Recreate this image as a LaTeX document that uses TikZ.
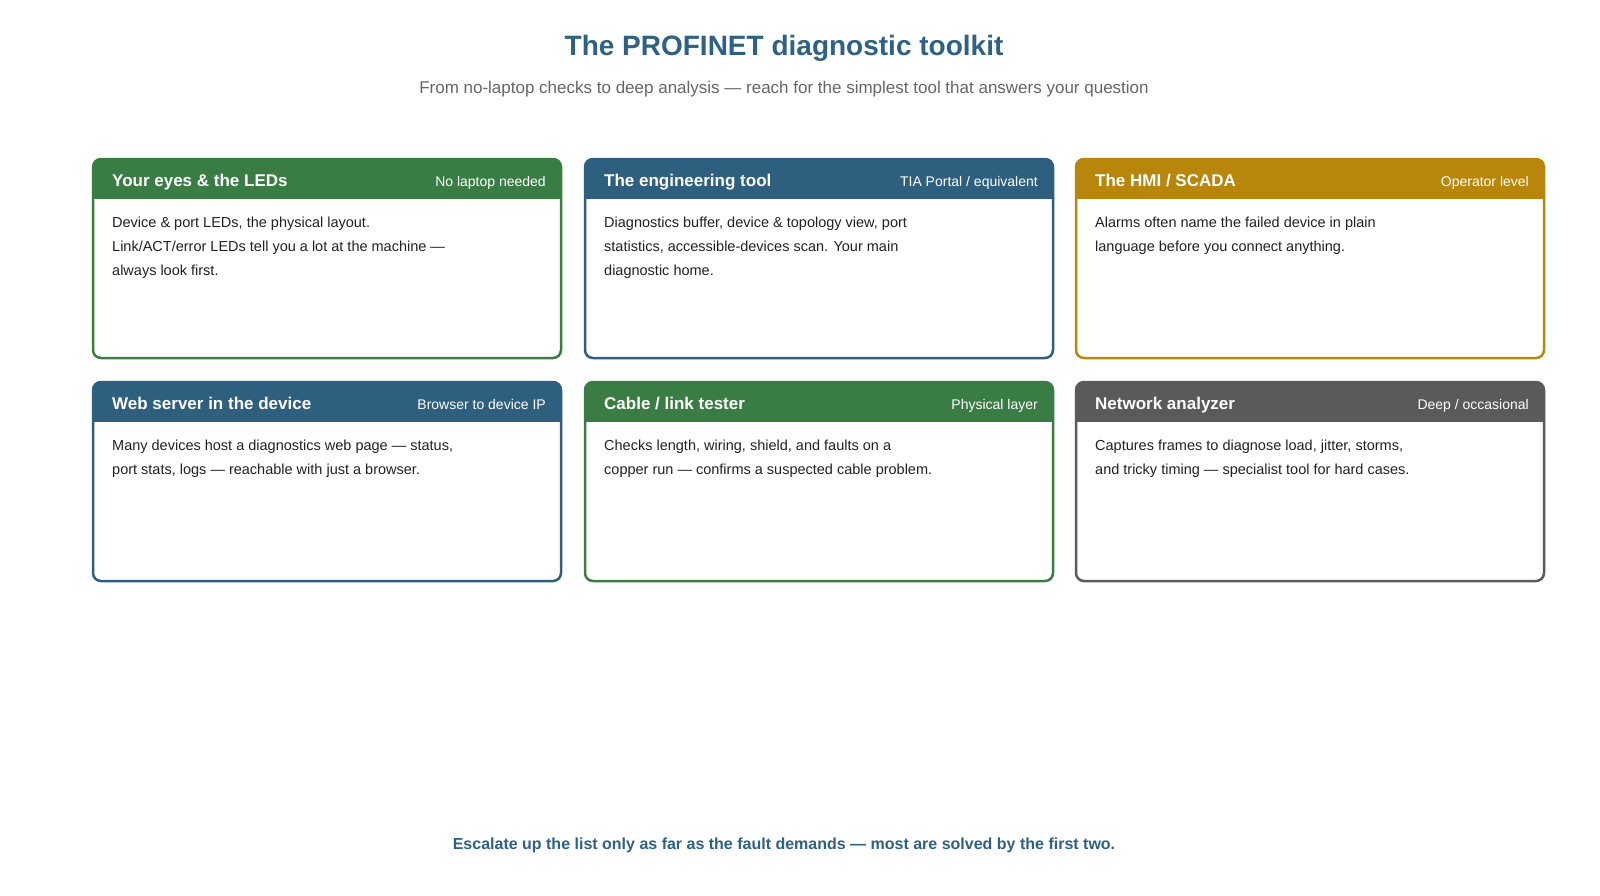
\documentclass[tikz,border=0pt]{standalone}
\usepackage{fontspec}
\setmainfont{Liberation Sans}
\usetikzlibrary{calc}
\definecolor{cgreen}{HTML}{3A7D44}
\definecolor{cblue}{HTML}{2E5F7F}
\definecolor{cgold}{HTML}{B8860B}
\definecolor{cgray}{HTML}{5A5A5A}
\definecolor{ctitle}{HTML}{2E6183}
\definecolor{csub}{HTML}{666666}
\definecolor{cbody}{HTML}{222222}
\begin{document}
\begin{tikzpicture}[x=1pt,y=-1pt,
  htitle/.style={anchor=base west,text=white,font=\fontsize{17}{20}\selectfont\bfseries,inner sep=0},
  htag/.style={anchor=base east,text=white,font=\fontsize{14}{16}\selectfont,inner sep=0},
  body/.style={anchor=north west,text=cbody,font=\fontsize{14.5}{24}\selectfont,align=left,inner sep=0}]
\useasboundingbox[fill=white] (0,0) rectangle (1600,895);
\node[font=\fontsize{28}{32}\selectfont\bfseries,text=ctitle] (title) at (784,48) {The PROFINET diagnostic toolkit};
\node[font=\fontsize{17}{20}\selectfont,text=csub] (sub) at (784,89) {From no-laptop checks to deep analysis — reach for the simplest tool that answers your question};
\newcommand\card[7]{% x y color name title tag body
  \begin{scope}
  \clip[rounded corners=8] (#1,#2) rectangle ++(468,199);
  \fill[white] (#1,#2) rectangle ++(468,199);
  \fill[#3] (#1,#2) rectangle ++(468,40);
  \end{scope}
  \draw[#3,line width=2.5,rounded corners=8] (#1,#2) rectangle ++(468,199);
  \node[htitle] (#4t) at ($(#1,#2)+(19,27)$) {#5};
  \node[htag] (#4g) at ($(#1,#2)+(453,27)$) {#6};
  \node[body] (#4b) at ($(#1,#2)+(19,58)$) {#7};
}
\card{93}{159}{cgreen}{a}{Your eyes \& the LEDs}{No laptop needed}{Device \& port LEDs, the physical layout.\\Link/ACT/error LEDs tell you a lot at the machine —\\always look first.}
\card{585}{159}{cblue}{b}{The engineering tool}{TIA Portal / equivalent}{Diagnostics buffer, device \& topology view, port\\statistics, accessible-devices scan. Your main\\diagnostic home.}
\card{1076}{159}{cgold}{c}{The HMI / SCADA}{Operator level}{Alarms often name the failed device in plain\\language before you connect anything.}
\card{93}{382}{cblue}{d}{Web server in the device}{Browser to device IP}{Many devices host a diagnostics web page — status,\\port stats, logs — reachable with just a browser.}
\card{585}{382}{cgreen}{e}{Cable / link tester}{Physical layer}{Checks length, wiring, shield, and faults on a\\copper run — confirms a suspected cable problem.}
\card{1076}{382}{cgray}{f}{Network analyzer}{Deep / occasional}{Captures frames to diagnose load, jitter, storms,\\and tricky timing — specialist tool for hard cases.}
\node[font=\fontsize{16}{20}\selectfont\bfseries,text=ctitle] (foot) at (784,845) {Escalate up the list only as far as the fault demands — most are solved by the first two.};
\end{tikzpicture}
\end{document}
